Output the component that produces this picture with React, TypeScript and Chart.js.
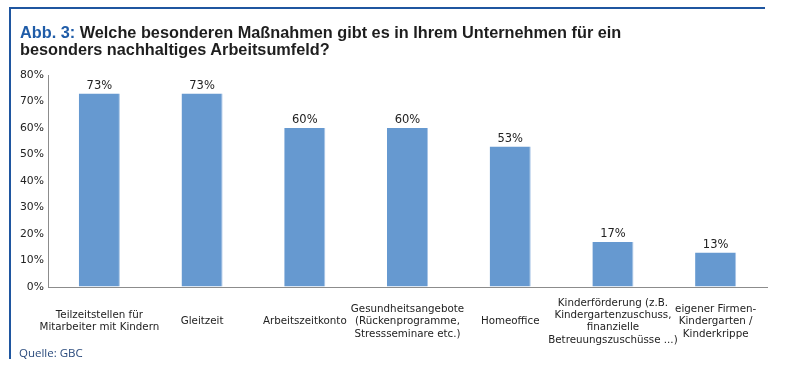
import React, { useEffect, useRef } from "react";
import { Chart, registerables } from "chart.js";

Chart.register(...registerables);

const categories: string[][] = [
  ["Teilzeitstellen für", "Mitarbeiter mit Kindern"],
  ["Gleitzeit"],
  ["Arbeitszeitkonto"],
  ["Gesundheitsangebote", "(Rückenprogramme,", "Stressseminare etc.)"],
  ["Homeoffice"],
  ["Kinderförderung (z.B.", "Kindergartenzuschuss,", "finanzielle", "Betreuungszuschüsse ...)"],
  ["eigener Firmen-", "Kindergarten /", "Kinderkrippe"],
];
const values: number[] = [73, 73, 60, 60, 53, 17, 13];
const yMax = 80;
const yStep = 10;

const titleLead = "Abb. 3:";
const titleRest = " Welche besonderen Maßnahmen gibt es in Ihrem Unternehmen für ein";
const titleLine2 = "besonders nachhaltiges Arbeitsumfeld?";
const source = "Quelle: GBC";

const valueLabels = {
  id: "valueLabels",
  afterDatasetsDraw(chart: any) {
    const ctx = chart.ctx;
    const meta = chart.getDatasetMeta(0);
    ctx.save();
    ctx.font = "11.5px 'DejaVu Sans'";
    ctx.fillStyle = "#222";
    ctx.textAlign = "center";
    ctx.textBaseline = "bottom";
    meta.data.forEach((bar: any, i: number) => {
      ctx.fillText(values[i] + "%", bar.x, bar.y - 2);
    });
    ctx.restore();
  },
};

export default function App() {
  const ref = useRef<HTMLCanvasElement>(null);
  useEffect(() => {
    if (!ref.current) return;
    const chart = new Chart(ref.current, {
      type: "bar",
      data: {
        labels: categories,
        datasets: [
          {
            data: values,
            backgroundColor: "#6699d0",
            borderColor: "#a9c5e6",
            borderWidth: { right: 1, left: 0, top: 0, bottom: 0 },
            barPercentage: 0.4,
            categoryPercentage: 1,
          },
        ],
      },
      plugins: [valueLabels],
      options: {
        responsive: false,
        animation: false,
        layout: { padding: { left: 0, top: 75, right: 19, bottom: 0 } },
        plugins: { legend: { display: false }, tooltip: { enabled: false } },
        scales: {
          x: {
            grid: { display: true, color: "rgba(0,0,0,0)", drawTicks: false },
            border: { display: true, color: "#8c8c8c", width: 1 },
            ticks: {
              color: "#222",
              font: { family: "'DejaVu Sans'", size: 10.3, lineHeight: 1.2 },
              padding: 16,
              maxRotation: 0,
              autoSkip: false,
              crossAlign: "center",
            },
            afterFit: (s: any) => {
              s.height = 96;
            },
          },
          y: {
            min: 0,
            max: yMax,
            grid: { display: true, color: "rgba(0,0,0,0)", drawTicks: false },
            border: { display: true, color: "#8c8c8c", width: 1 },
            ticks: {
              stepSize: yStep,
              color: "#222",
              font: { family: "'DejaVu Sans'", size: 10.8 },
              padding: 4,
              callback: (v: any) => v + "%",
            },
            afterFit: (s: any) => {
              s.width = 48;
            },
          },
        },
      },
    });
    return () => chart.destroy();
  }, []);

  return (
    <div
      style={{
        position: "fixed",
        left: 0,
        top: 0,
        width: 786,
        height: 383,
        background: "#fff",
        overflow: "hidden",
      }}
    >
      <div style={{ position: "absolute", left: 9, top: 7, width: 756, height: 2, background: "#1f56a0" }} />
      <div style={{ position: "absolute", left: 9, top: 7, width: 2, height: 352, background: "#1f56a0" }} />
      <canvas ref={ref} width={786} height={383} style={{ position: "absolute", left: 0, top: 0, width: 786, height: 383 }} />
      <div
        style={{
          position: "absolute",
          left: 20,
          top: 24,
          fontFamily: "'Liberation Sans', Arial, sans-serif",
          fontWeight: "bold",
          fontSize: 16.3,
          lineHeight: "16.5px",
          color: "#1e1e1e",
          whiteSpace: "nowrap",
        }}
      >
        <span style={{ color: "#1f5ca8" }}>{titleLead}</span>
        {titleRest}
        <br />
        {titleLine2}
      </div>
      <div
        style={{
          position: "absolute",
          left: 19,
          top: 345,
          fontFamily: "'Open Sans', sans-serif",
          fontSize: 11.5,
          color: "#2a4a7c",
          whiteSpace: "nowrap",
        }}
      >
        {source}
      </div>
    </div>
  );
}
